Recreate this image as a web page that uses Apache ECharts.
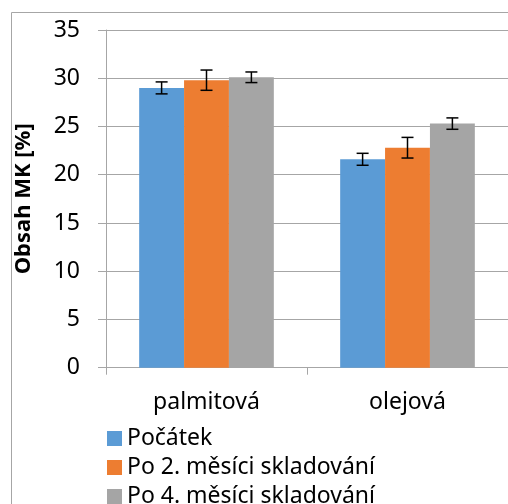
<!DOCTYPE html>
<html>
<head>
<meta charset="utf-8">
<script src="https://cdn.jsdelivr.net/npm/echarts@6/dist/echarts.min.js"></script>
<style>html,body{margin:0;padding:0;background:#fff;}#c{width:508px;height:504px;}</style>
</head>
<body>
<div id="c"></div>
<script>
const categories = ['palmitová', 'olejová'];
const seriesNames = ['Počátek', 'Po 2. měsíci skladování', 'Po 4. měsíci skladování'];
const valuesStart = [29.0, 21.6];
const values2m = [29.8, 22.8];
const values4m = [30.1, 25.3];
const errStart = [0.62, 0.62];
const err2m = [1.05, 1.07];
const err4m = [0.55, 0.59];
const yTicks = [0, 5, 10, 15, 20, 25, 30, 35];

const colors = ['#5b9bd5', '#ed7d31', '#a5a5a5'];
const allValues = [valuesStart, values2m, values4m];
const allErr = [errStart, err2m, err4m];
const FONT = 'Noto Sans';
const GAP = 0.33;

const chart = echarts.init(document.getElementById('c'), null, {renderer: 'canvas'});

const barSeries = seriesNames.map((n, i) => ({
  name: n, type: 'bar', data: allValues[i], barGap: '0%', barCategoryGap: (GAP * 100) + '%',
  itemStyle: {color: colors[i]}, z: 2
}));

const errSeries = seriesNames.map((n, i) => ({
  type: 'custom', name: n + '_err',
  data: categories.map((c, k) => [k, allValues[i][k] - allErr[i][k], allValues[i][k] + allErr[i][k]]),
  renderItem: function (params, api) {
    const k = api.value(0);
    const lo = api.coord([k, api.value(1)]);
    const hi = api.coord([k, api.value(2)]);
    const bw = api.size([1, 0])[0] * (1 - GAP) / 3;
    const x = lo[0] + (i - 1) * bw;
    const hw = 6;
    const st = {stroke: '#000', lineWidth: 1.5};
    return {type: 'group', children: [
      {type: 'line', shape: {x1: x, y1: lo[1], x2: x, y2: hi[1]}, style: st},
      {type: 'line', shape: {x1: x - hw, y1: lo[1], x2: x + hw, y2: lo[1]}, style: st},
      {type: 'line', shape: {x1: x - hw, y1: hi[1], x2: x + hw, y2: hi[1]}, style: st}
    ]};
  },
  z: 5, silent: true
}));

chart.setOption({
  animation: false,
  textStyle: {fontFamily: FONT},
  graphic: [{type: 'rect', shape: {x: 11.5, y: 12.5, width: 600, height: 600},
    style: {fill: 'none', stroke: '#a6a6a6', lineWidth: 1}, z: -1}],
  grid: {left: 106, top: 30, width: 410, height: 337.7},
  legend: {
    data: seriesNames, orient: 'vertical', left: 102, top: 422, height: 150, width: 400,
    itemWidth: 15, itemHeight: 15, itemGap: 6, icon: 'rect',
    textStyle: {fontFamily: FONT, fontSize: 23, color: '#000'}
  },
  xAxis: {
    type: 'category', data: categories,
    axisLine: {lineStyle: {color: '#a6a6a6', width: 1}},
    axisTick: {show: true, length: 7, lineStyle: {color: '#a6a6a6'}},
    axisLabel: {fontFamily: FONT, fontSize: 23, color: '#000', margin: 23}
  },
  yAxis: {
    type: 'value', min: yTicks[0], max: yTicks[yTicks.length - 1], interval: 5,
    name: 'Obsah MK [%]', nameLocation: 'middle', nameGap: 71, nameRotate: 90,
    nameTextStyle: {fontFamily: FONT, fontSize: 22, fontWeight: 'bold', color: '#000'},
    axisLine: {show: true, lineStyle: {color: '#a6a6a6'}},
    axisTick: {show: true, length: 8, lineStyle: {color: '#a6a6a6'}},
    splitLine: {lineStyle: {color: '#a6a6a6'}},
    axisLabel: {fontFamily: FONT, fontSize: 23, color: '#000', margin: 26}
  },
  series: barSeries.concat(errSeries)
});
</script>
</body>
</html>
